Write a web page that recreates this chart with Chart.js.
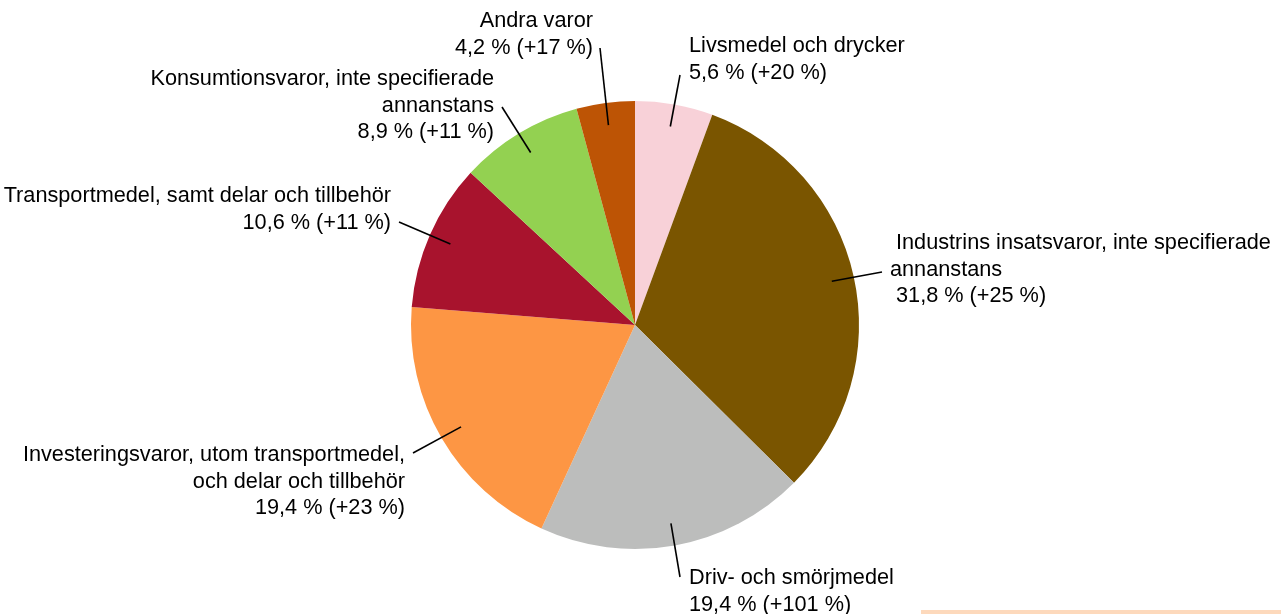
<!DOCTYPE html>
<html>
<head>
<meta charset="utf-8">
<script src="https://cdn.jsdelivr.net/npm/chart.js@4"></script>
<style>
    body { margin: 0; background: #fff; overflow: hidden; }
    #wrap { position: relative; width: 1281px; height: 614px; }
    #peach { position: absolute; left: 921px; top: 610px; width: 360px; height: 4px; background: #fdd9bc; }
</style>
</head>
<body>
<div id="wrap">
    <canvas id="pieChart" width="1281" height="614"></canvas>
    <div id="peach"></div>
</div>
<script>
// varugrupper, andel (%) och förändring (%)
const categories = [
    'Livsmedel och drycker',
    'Industrins insatsvaror, inte specifierade annanstans',
    'Driv- och smörjmedel',
    'Investeringsvaror, utom transportmedel, och delar och tillbehör',
    'Transportmedel, samt delar och tillbehör',
    'Konsumtionsvaror, inte specifierade annanstans',
    'Andra varor'
];
const shares = [5.6, 31.8, 19.4, 19.4, 10.6, 8.9, 4.2];
const changes = [20, 25, 101, 23, 11, 11, 17];
const colors = ['#f8d1d8', '#7a5500', '#bcbdbc', '#fd9644', '#a8132d', '#93d151', '#bd5405'];

// label text rows (first rows split from the category name)
const labelRows = [
    ['Livsmedel och drycker'],
    [' Industrins insatsvaror, inte specifierade', 'annanstans'],
    ['Driv- och smörjmedel'],
    ['Investeringsvaror, utom transportmedel,', 'och delar och tillbehör'],
    ['Transportmedel, samt delar och tillbehör'],
    ['Konsumtionsvaror, inte specifierade', 'annanstans'],
    ['Andra varor']
];

// label placement: text anchor, alignment, leader line outer end
const labelLayout = [
    { x: 689, y: 52,  align: 'left',  lx: 680, ly: 75 },
    { x: 890, y: 249, align: 'left',  lx: 882, ly: 272 },
    { x: 689, y: 584, align: 'left',  lx: 680, ly: 577 },
    { x: 405, y: 461, align: 'right', lx: 413, ly: 453 },
    { x: 391, y: 202, align: 'right', lx: 399, ly: 222 },
    { x: 494, y: 85,  align: 'right', lx: 502, ly: 107 },
    { x: 593, y: 27,  align: 'right', lx: 600, ly: 48 }
];

function fmt(v) {
    return v.toFixed(1).replace('.', ',');
}

const pieLabels = {
    id: 'pieLabels',
    afterDraw(chart) {
        const ctx = chart.ctx;
        const arcs = chart.getDatasetMeta(0).data;
        ctx.save();
        ctx.font = '21.7px "Liberation Sans", Arial, sans-serif';
        ctx.fillStyle = '#000';
        ctx.strokeStyle = '#000';
        ctx.lineWidth = 1.6;
        ctx.textBaseline = 'alphabetic';
        arcs.forEach((arc, i) => {
            const mid = (arc.startAngle + arc.endAngle) / 2;
            const r = arc.outerRadius * 0.9;
            const lay = labelLayout[i];
            ctx.beginPath();
            ctx.moveTo(arc.x + Math.cos(mid) * r, arc.y + Math.sin(mid) * r);
            ctx.lineTo(lay.lx, lay.ly);
            ctx.stroke();

            let rows = labelRows[i].slice();
            let last = fmt(shares[i]) + ' % (+' + changes[i] + ' %)';
            if (i === 1) last = ' ' + last;
            rows.push(last);
            ctx.textAlign = lay.align;
            rows.forEach((t, k) => {
                ctx.fillText(t, lay.x, lay.y + k * 26.6);
            });
        });
        ctx.restore();
    }
};

const pieChart = new Chart(document.getElementById('pieChart'), {
    type: 'pie',
    data: {
        labels: categories,
        datasets: [{
            data: shares,
            backgroundColor: colors,
            borderWidth: 0
        }]
    },
    options: {
        responsive: false,
        animation: false,
        layout: {
            padding: { top: 101, bottom: 65, left: 0, right: 11 }
        },
        plugins: {
            legend: { display: false },
            tooltip: { enabled: false }
        }
    },
    plugins: [pieLabels]
});
</script>
</body>
</html>
